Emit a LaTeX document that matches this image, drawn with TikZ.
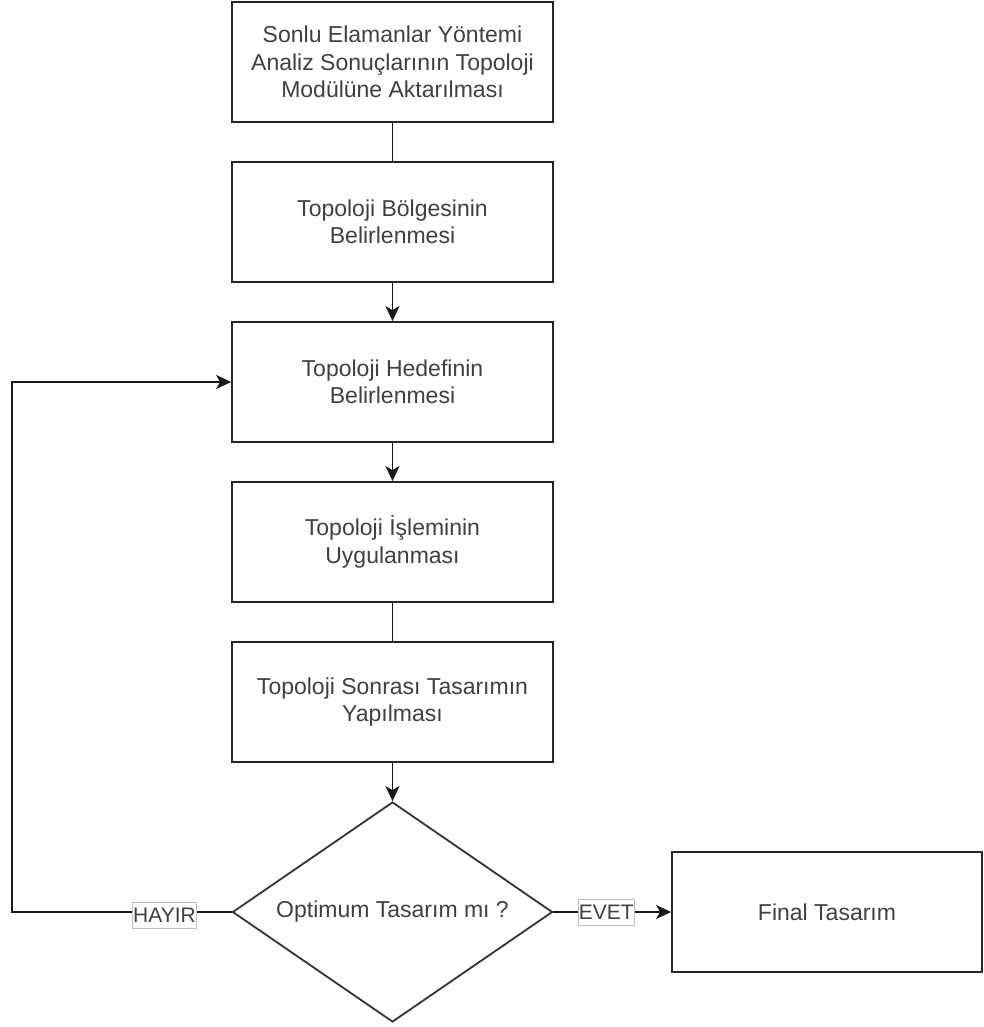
\documentclass[tikz,border=0pt]{standalone}
\usepackage{fontspec}
\setmainfont{Liberation Sans}
\usetikzlibrary{shapes.geometric,arrows.meta}
\begin{document}
\begin{tikzpicture}[x=1pt,y=-1pt,
  box/.style={draw=black!85,line width=1.8pt,minimum width=321pt,minimum height=120pt,align=center,text=black!75,font=\fontsize{23}{27.5}\selectfont,inner sep=0pt},
  dia/.style={draw=black!80,line width=1.8pt,diamond,aspect=1.4545,minimum width=320pt,minimum height=220pt,inner sep=0pt,text=black!75,font=\fontsize{23}{27.5}\selectfont},
  conn/.style={line width=1.9pt,draw=black!90},
  arr/.style={conn,-{Stealth[length=15pt,width=14pt,inset=4pt]}},
  lbl/.style={draw=black!25,line width=0.8pt,fill=white,text=black!75,font=\fontsize{21}{24}\selectfont,inner sep=1pt,minimum height=26pt}
]
\useasboundingbox (0,0) rectangle (983,1027);
\node[box] (b1) at (392.5,62) {Sonlu Elamanlar Yöntemi\\Analiz Sonuçlarının Topoloji\\Modülüne Aktarılması};
\node[box] (b2) at (392.5,222) {Topoloji Bölgesinin\\Belirlenmesi};
\node[box] (b3) at (392.5,382) {Topoloji Hedefinin\\Belirlenmesi};
\node[box] (b4) at (392.5,542) {Topoloji İşleminin\\Uygulanması};
\node[box] (b5) at (392.5,702) {Topoloji Sonrası Tasarımın\\Yapılması};
\node[dia] (d) at (392.5,912) {Optimum Tasarım mı ?};
\node[box,minimum width=310pt] (f) at (827,912) {Final Tasarım};
\coordinate (lc) at (12,912);
\coordinate (lt) at (12,382);
\draw[conn] (b1.south) -- (b2.north);
\draw[arr] (b2.south) -- (b3.north);
\draw[arr] (b3.south) -- (b4.north);
\draw[conn] (b4.south) -- (b5.north);
\draw[arr] (b5.south) -- (d.north);
\draw[arr] (d.east) -- node[lbl,pos=0.45] (evet) {EVET} (f.west);
\draw[arr] (d.west) -- (lc) -- (lt) -- (b3.west);
\node[lbl] (hayir) at (164.5,915) {HAYIR};
\end{tikzpicture}
\end{document}
